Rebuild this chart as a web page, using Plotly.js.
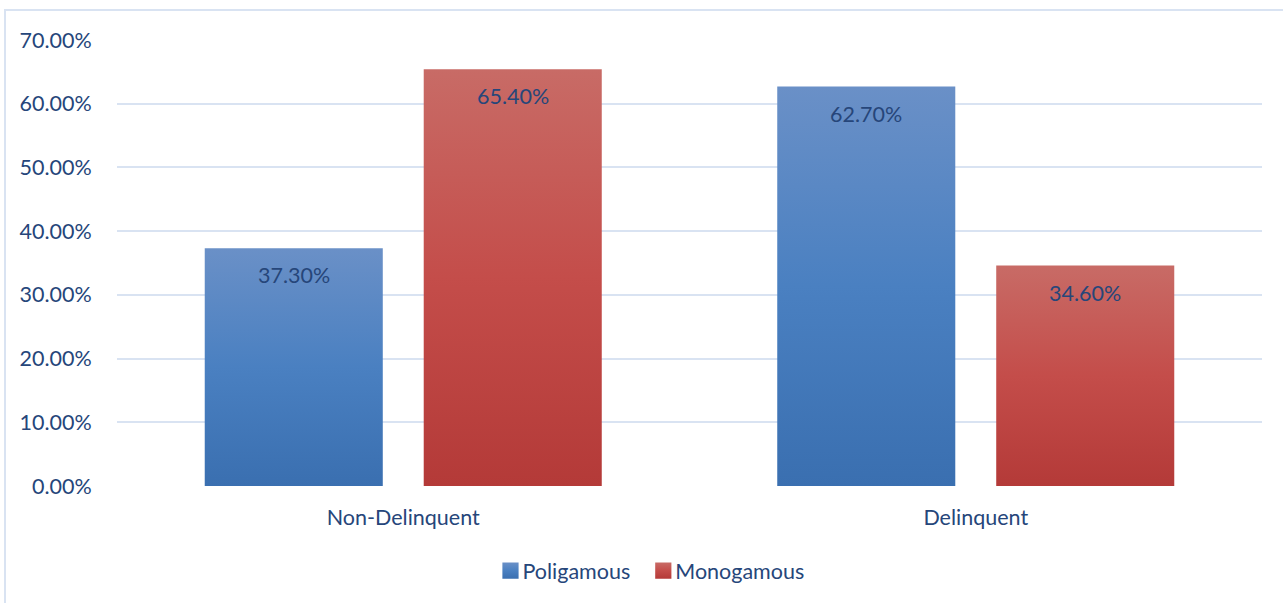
<!DOCTYPE html>
<html>
<head>
<meta charset="utf-8">
<script src="https://cdn.plot.ly/plotly-3.0.1.min.js"></script>
<style>
  html, body { margin: 0; padding: 0; background: #ffffff; }
  #chart { width: 1283px; height: 603px; }
</style>
</head>
<body>
<div id="chart"></div>
<script>
const categories = ["Non-Delinquent", "Delinquent"];
const poligamous = [37.3, 62.7];
const monogamous = [65.4, 34.6];
const seriesNames = ["Poligamous", "Monogamous"];
const yTicks = [0, 10, 20, 30, 40, 50, 60, 70];

const fontFam = "Lato, 'Open Sans', sans-serif";
const textColor = "#26467a";
const fs = 21.5;

function fmt(v) { return v.toFixed(2) + "%"; }

const traces = [
  {
    type: "bar", name: seriesNames[0], x: categories, y: poligamous,
    marker: { color: "#4a7fc1" }, hoverinfo: "skip"
  },
  {
    type: "bar", name: seriesNames[1], x: categories, y: monogamous,
    marker: { color: "#c0504d" }, hoverinfo: "skip"
  }
];

// data labels placed at each bar's value, shifted to the bar's slot within the group
const slotShift = 109.5;
const annotations = [];
[poligamous, monogamous].forEach(function (vals, si) {
  vals.forEach(function (v, ci) {
    annotations.push({
      x: categories[ci], y: v, xref: "x", yref: "y",
      text: fmt(v), showarrow: false,
      xshift: si === 0 ? -slotShift : slotShift,
      yanchor: "top", yshift: -12,
      font: { family: fontFam, size: fs, color: textColor }
    });
  });
});

const layout = {
  width: 1283, height: 603,
  margin: { l: 117, r: 21, t: 40, b: 117 },
  paper_bgcolor: "#ffffff", plot_bgcolor: "#ffffff",
  font: { family: fontFam, size: fs, color: textColor },
  barmode: "group", bargap: 0.235, bargroupgap: 0.187,
  showlegend: true,
  legend: {
    orientation: "h", x: 0.462, xanchor: "center", y: -0.19, yanchor: "middle",
    font: { family: fontFam, size: fs, color: textColor },
    traceorder: "normal"
  },
  xaxis: {
    type: "category", showgrid: false, zeroline: false, showline: false,
    ticks: "outside", ticklen: 12, tickcolor: "rgba(0,0,0,0)",
    tickfont: { family: fontFam, size: fs, color: textColor }
  },
  yaxis: {
    range: [0, 70], tickvals: yTicks, ticktext: yTicks.map(fmt),
    showgrid: true, gridcolor: "#d9e3f2", gridwidth: 2,
    zeroline: false, showline: false,
    ticks: "outside", ticklen: 20, tickcolor: "rgba(0,0,0,0)",
    tickfont: { family: fontFam, size: fs, color: textColor }
  },
  annotations: annotations,
  shapes: [
    { type: "rect", xref: "paper", yref: "paper",
      x0: (5 - 117) / 1145, x1: 1.2, y0: -0.5, y1: (486 - 10) / 446,
      line: { color: "#d9e3f2", width: 2 }, fillcolor: "rgba(0,0,0,0)", layer: "below" }
  ]
};

Plotly.newPlot("chart", traces, layout, { displayModeBar: false, staticPlot: true }).then(function (gd) {
  const svg = gd.querySelector("svg.main-svg");
  const ns = "http://www.w3.org/2000/svg";
  let defs = svg.querySelector("defs");
  if (!defs) { defs = document.createElementNS(ns, "defs"); svg.insertBefore(defs, svg.firstChild); }
  function addGrad(id, top, mid, bot) {
    const g = document.createElementNS(ns, "linearGradient");
    g.setAttribute("id", id);
    g.setAttribute("x1", "0"); g.setAttribute("y1", "0");
    g.setAttribute("x2", "0"); g.setAttribute("y2", "1");
    [[0, top], [0.5, mid], [1, bot]].forEach(function (s) {
      const st = document.createElementNS(ns, "stop");
      st.setAttribute("offset", s[0]);
      st.setAttribute("stop-color", s[1]);
      g.appendChild(st);
    });
    defs.appendChild(g);
  }
  addGrad("gradBlue", "#6a90c7", "#4a80c1", "#3a6fb0");
  addGrad("gradRed", "#c86b66", "#c44d4a", "#b43a38");
  const grads = ["url(#gradBlue)", "url(#gradRed)"];
  gd.querySelectorAll(".barlayer .trace").forEach(function (tr, i) {
    tr.querySelectorAll("path").forEach(function (p) { p.style.fill = grads[i]; });
  });
  gd.querySelectorAll(".legend .traces").forEach(function (tr, i) {
    tr.querySelectorAll(".legendpoints path").forEach(function (p) {
      p.style.fill = grads[i];
      const t = p.getAttribute("transform") || "";
      p.setAttribute("transform", t + " translate(8,0) scale(1.35)");
    });
  });
});
</script>
</body>
</html>
